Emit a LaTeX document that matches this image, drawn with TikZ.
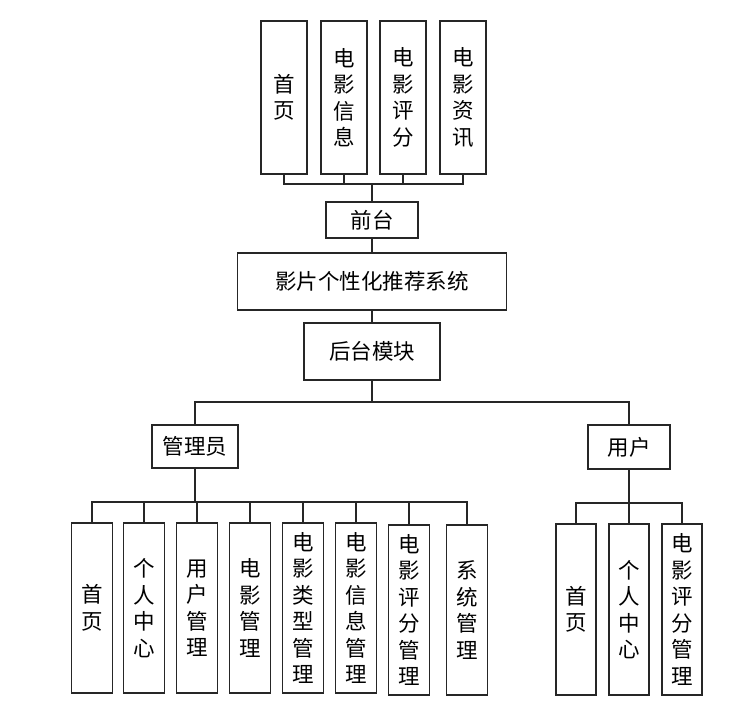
\documentclass[tikz,border=0pt]{standalone}
\usepackage{fontspec}
\newfontfamily\cjk{Noto Sans CJK SC}
\begin{document}
\begin{tikzpicture}[x=1pt,y=-1pt]
        \tikzstyle{module}=[rectangle,draw=black!85,line width=1.3pt,fill=white,inner sep=0pt,align=center,font=\cjk\fontsize{21.5}{26.5}\selectfont]
        \tikzstyle{edge}=[draw,line width=1.3pt,black!85]
        \useasboundingbox (0,0) rectangle (737,709);
        \begin{scope}
                % front end
                \node [module,minimum width=46,minimum height=153] (f1) at (284,97.5) {首\\页};
                \node [module,minimum width=46,minimum height=153] (f2) at (344,97.5) {电\\影\\信\\息};
                \node [module,minimum width=46,minimum height=153] (f3) at (403,97.5) {电\\影\\评\\分};
                \node [module,minimum width=46,minimum height=153] (f4) at (463,97.5) {电\\影\\资\\讯};
                \node [module,minimum width=92,minimum height=36] (qt) at (372,220) {前台};
                \node [module,minimum width=269,minimum height=57] (sys) at (372,281.5) {影片个性化推荐系统};
                \node [module,minimum width=136,minimum height=57] (ht) at (372,351.5) {后台模块};
                % back end
                \node [module,minimum width=86,minimum height=43] (gly) at (195,446.5) {管理员};
                \node [module,minimum width=82,minimum height=44] (yh) at (629,447) {用户};
                \node [module,minimum width=41,minimum height=170] (a1) at (92,608) {首\\页};
                \node [module,minimum width=41,minimum height=170] (a2) at (144,608) {个\\人\\中\\心};
                \node [module,minimum width=41,minimum height=170] (a3) at (197,608) {用\\户\\管\\理};
                \node [module,minimum width=41,minimum height=170] (a4) at (250,608) {电\\影\\管\\理};
                \node [module,minimum width=41,minimum height=170] (a5) at (303,608) {电\\影\\类\\型\\管\\理};
                \node [module,minimum width=41,minimum height=170] (a6) at (356,608) {电\\影\\信\\息\\管\\理};
                \node [module,minimum width=41,minimum height=170] (a7) at (409,610) {电\\影\\评\\分\\管\\理};
                \node [module,minimum width=41,minimum height=170] (a8) at (467,610) {系\\统\\管\\理};
                \node [module,minimum width=40,minimum height=171] (u1) at (576,609.5) {首\\页};
                \node [module,minimum width=40,minimum height=171] (u2) at (629,609.5) {个\\人\\中\\心};
                \node [module,minimum width=40,minimum height=171] (u3) at (682,609.5) {电\\影\\评\\分\\管\\理};
                \coordinate (qbus) at (372,184);
                \coordinate (hbus) at (372,402);
                \coordinate (abus) at (195,502);
                \coordinate (ubus) at (629,503);
                \foreach \i in {1,...,4}
                        \path[edge] (f\i.south) |- (qbus);
                \path[edge] (qbus) -- (qt.north);
                \path[edge] (qt.south) -- (sys.north);
                \path[edge] (sys.south) -- (ht.north);
                \path[edge] (ht.south) -- (hbus);
                \path[edge] (gly.north) |- (hbus);
                \path[edge] (yh.north) |- (hbus);
                \path[edge] (gly.south) -- (abus);
                \foreach \i in {1,...,8}
                        \path[edge] (a\i.north) |- (abus);
                \path[edge] (yh.south) -- (ubus);
                \foreach \i in {1,...,3}
                        \path[edge] (u\i.north) |- (ubus);
        \end{scope}
\end{tikzpicture}
\end{document}
